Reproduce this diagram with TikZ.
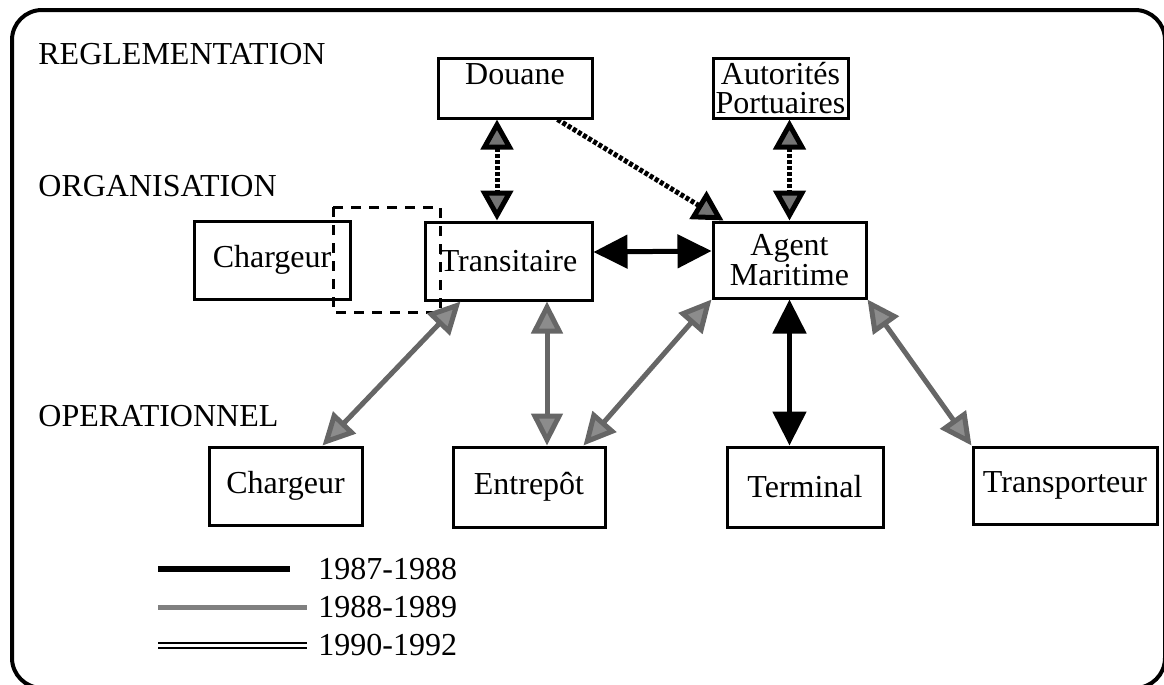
\documentclass[tikz,border=0pt]{standalone}
\usepackage{fontspec}
\setmainfont{Liberation Serif}
\usetikzlibrary{arrows.meta}
\usetikzlibrary{positioning}
\usetikzlibrary{calc}
\tikzset{box/.style={draw,line width=1.5pt,minimum height=39pt,inner sep=2pt,align=center},
niveau/.style={anchor=west,inner sep=0pt},
tete87/.tip={Triangle[length=17pt,width=16.5pt]},
tete88/.tip={Triangle[length=16pt,width=15.5pt,fill=black!45]},
tete90/.tip={Triangle[length=15pt,width=16pt,fill=black!55]},
per87/.style={line width=2.5pt,draw=black,{tete87}-{tete87}},
per88/.style={line width=2.5pt,draw=black!60,{tete88}-{tete88}},
per90/.style={line width=2.5pt,draw=black,dash pattern=on 2pt off 1pt,{tete90}-{tete90}}}

\begin{document}
\begin{tikzpicture}[x=0.5pt,y=-0.5pt,font=\fontsize{16}{13.5}\selectfont]
\useasboundingbox (0,0) rectangle (1164,685);
\draw[line width=2pt,rounded corners=15pt] (12,10) rectangle (1165,688);
\node[niveau] (regl) at (38,54) {REGLEMENTATION};
\node[niveau] (orga) at (38,186) {ORGANISATION};
\node[niveau] (oper) at (38,416) {OPERATIONNEL};
\node[box,minimum width=77pt,minimum height=30pt,text height=9pt,text depth=13pt] (douane) at (515,88) {Douane};
\node[box,minimum width=67.5pt,minimum height=30pt,inner sep=0pt,font=\fontsize{16}{14.5}\selectfont] (autorites) at (780.5,88) {Autorités\\Portuaires};
\node[box,minimum width=78pt] (chargeurorg) at (272,260) {Chargeur};
\node[box,minimum width=83.5pt] (transitaire) at (508.5,261) {Transitaire};
\node[box,minimum width=76.5pt,minimum height=38pt] (agent) at (789.5,260) {Agent\\Maritime};
\node[box,minimum width=76.5pt] (chargeurop) at (285.5,486) {Chargeur};
\node[box,minimum width=76pt,minimum height=40pt] (entrepot) at (529,487) {Entrepôt};
\node[box,minimum width=78pt,minimum height=40pt] (terminal) at (805,487) {Terminal};
\node[box,minimum width=92pt,minimum height=38.5pt] (transporteur) at (1065,485.5) {Transporteur};
\draw[line width=1.5pt,dash pattern=on 5pt off 4pt] (333,207) rectangle (440,312);
\draw[per90] ([xshift=-5.75pt]transitaire.north |- douane.south) -- ([xshift=-5.75pt]transitaire.north);
\draw[per90,-{tete90}] ([xshift=-18pt]douane.south east) -- ([xshift=6pt]agent.north west);
\draw[per90] (agent.north |- autorites.south) -- (agent.north);
\draw[per87] ([yshift=4.5pt]transitaire.east) -- ([yshift=4.5pt]agent.west);
\draw[per88] ([xshift=18.5pt]transitaire.south west) -- ([xshift=18.5pt]chargeurop.north);
\draw[per88] ([xshift=9pt]entrepot.north |- transitaire.south) -- ([xshift=9pt]entrepot.north);
\draw[per88] (agent.south west) -- ([xshift=-11.5pt]entrepot.north east);
\draw[per87] (agent.south) -- (agent.south |- terminal.north);
\draw[per88] (agent.south east) -- (transporteur.north west);
\node[niveau] (leg87) at (318,569) {1987-1988};
\node[niveau] (leg88) at (318,607) {1988-1989};
\node[niveau] (leg90) at (318,645) {1990-1992};
\draw[line width=3pt] (158,569) -- (290,569);
\draw[line width=2.5pt,black!50] (158,607) -- (307,607);
\draw[line width=1pt,double=white,double distance=1.5pt] (158,645) -- (307,645);
\end{tikzpicture}
\end{document}
